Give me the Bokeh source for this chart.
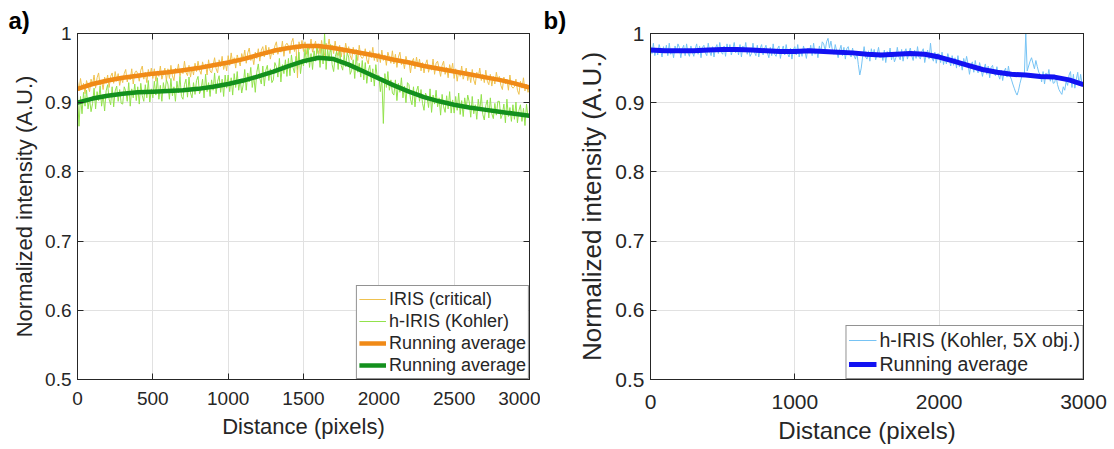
from bokeh.plotting import figure
from bokeh.layouts import row
from bokeh.models import (Legend, LegendItem, FixedTicker, CustomJSTickFormatter,
                          LinearAxis, Range1d, Title)
from bokeh.embed import file_html
from bokeh.resources import INLINE

# ---------------- data ----------------
# raw profiles sampled every 10 px, running averages every 100 px
distance_raw = list(range(0, 3001, 10))
distance_avg = list(range(0, 3001, 100))

iris_critical = [
    .931, .917, .935, .920, .928, .913, .932, .924, .916, .934,
    .926, .940, .921, .936, .943, .925, .932, .919, .937, .928,
    .940, .922, .938, .943, .928, .945, .931, .942, .925, .937,
    .929, .942, .948, .930, .940, .933, .949, .927, .943, .946,
    .942, .931, .947, .953, .934, .944, .929, .948, .938, .950,
    .935, .949, .931, .946, .938, .953, .934, .942, .950, .932,
    .949, .935, .954, .939, .932, .950, .943, .956, .938, .947,
    .942, .960, .944, .939, .954, .937, .951, .940, .957, .945,
    .960, .947, .941, .959, .949, .956, .940, .962, .946, .943,
    .954, .965, .949, .943, .962, .952, .967, .948, .958, .946,
    .968, .954, .972, .957, .965, .950, .969, .961, .953, .971,
    .962, .976, .957, .972, .979, .961, .968, .955, .973, .964,
    .978, .960, .976, .981, .966, .983, .969, .980, .963, .975,
    .969, .982, .988, .970, .980, .973, .989, .967, .983, .986,
    .982, .971, .987, .993, .974, .984, .936, .988, .978, .990,
    .974, .988, .970, .985, .977, .992, .973, .981, .989, .971,
    .985, .971, .990, .975, .968, .986, .979, .992, .974, .983,
    .971, .989, .973, .968, .983, .966, .980, .969, .986, .974,
    .981, .968, .962, .980, .970, .977, .961, .983, .967, .964,
    .967, .978, .962, .956, .975, .965, .980, .961, .971, .959,
    .972, .958, .976, .961, .969, .954, .973, .965, .957, .975,
    .956, .970, .951, .966, .973, .955, .962, .949, .967, .958,
    .961, .943, .959, .964, .949, .966, .952, .963, .946, .958,
    .943, .956, .962, .944, .954, .947, .963, .941, .957, .960,
    .949, .938, .954, .960, .941, .951, .936, .955, .945, .957,
    .935, .949, .931, .946, .938, .953, .934, .942, .950, .932,
    .943, .929, .948, .933, .926, .944, .937, .950, .932, .941,
    .929, .947, .931, .926, .941, .924, .938, .927, .944, .932,
    .938, .925, .919, .937, .927, .934, .918, .940, .924, .921,
    .923, .934, .918, .912, .931, .921, .936, .917, .927, .915,
    .920]

h_iris_kohler = [
    .913, .866, .909, .884, .915, .895, .918, .891, .906, .887,
    .899, .921, .891, .916, .903, .924, .895, .912, .888, .917,
    .926, .905, .897, .923, .894, .917, .924, .902, .919, .899,
    .898, .923, .917, .902, .929, .895, .920, .907, .927, .903,
    .923, .898, .928, .910, .902, .926, .907, .932, .901, .920,
    .907, .931, .911, .936, .905, .925, .902, .929, .914, .933,
    .927, .905, .935, .910, .923, .902, .931, .914, .938, .909,
    .905, .926, .934, .908, .937, .914, .907, .929, .912, .932,
    .938, .913, .919, .934, .907, .941, .916, .929, .909, .933,
    .918, .943, .913, .931, .939, .915, .934, .909, .940, .921,
    .940, .916, .936, .911, .942, .922, .945, .918, .933, .914,
    .926, .948, .918, .943, .930, .951, .922, .939, .915, .944,
    .956, .935, .927, .953, .924, .947, .954, .932, .949, .929,
    .933, .958, .952, .937, .964, .930, .955, .942, .962, .938,
    .964, .939, .969, .951, .943, .967, .948, .973, .942, .961,
    .953, .977, .957, .982, .951, .971, .948, .975, .960, .979,
    .973, .951, .981, .956, 1.00, .948, .977, .960, .984, .955,
    .945, .966, .974, .948, .977, .954, .947, .969, .952, .972,
    .966, .941, .947, .962, .935, .969, .944, .957, .937, .961,
    .933, .958, .928, .946, .954, .930, .949, .924, .955, .936,
    .940, .916, .936, .870, .942, .922, .945, .918, .933, .914,
    .911, .933, .903, .928, .915, .936, .907, .924, .900, .929,
    .926, .905, .897, .923, .894, .917, .924, .902, .919, .899,
    .889, .914, .908, .893, .920, .886, .911, .898, .918, .894,
    .907, .882, .912, .894, .886, .910, .891, .916, .885, .904,
    .885, .909, .889, .914, .883, .903, .880, .907, .892, .911,
    .901, .879, .909, .884, .897, .876, .905, .888, .912, .883,
    .875, .896, .904, .878, .907, .884, .877, .899, .882, .902,
    .902, .877, .883, .898, .871, .905, .880, .893, .873, .897,
    .876, .901, .871, .889, .897, .873, .892, .867, .898, .879,
    .878]

avg_critical = [
    .920, .927, .932, .936, .939, .942, .944, .947, .950, .954,
    .958, .963, .969, .975, .979, .982, .982, .979, .975, .971,
    .967, .962, .958, .953, .949, .945, .941, .937, .933, .928,
    .922]

avg_kohler = [
    .900, .906, .910, .913, .915, .916, .917, .918, .920, .923,
    .927, .932, .938, .945, .953, .960, .965, .963, .955, .945,
    .935, .925, .916, .908, .902, .897, .893, .890, .887, .884,
    .881]

h_iris_5x = [
    .983, .971, .986, .968, .979, .969, .984, .976, .966, .981,
    .972, .983, .968, .986, .970, .977, .965, .982, .973, .985,
    .980, .965, .978, .983, .968, .985, .972, .967, .982, .973,
    .967, .978, .985, .970, .982, .965, .980, .983, .972, .968,
    .986, .974, .968, .981, .966, .979, .984, .971, .987, .973,
    .970, .982, .967, .985, .974, .984, .969, .977, .987, .972,
    .980, .969, .984, .966, .982, .975, .987, .970, .979, .967,
    .971, .986, .973, .968, .983, .966, .979, .984, .969, .978,
    .983, .972, .965, .980, .968, .985, .970, .967, .978, .982,
    .964, .976, .982, .969, .984, .971, .966, .979, .963, .977,
    .981, .969, .984, .966, .977, .967, .982, .974, .964, .979,
    .972, .983, .968, .986, .970, .977, .965, .982, .973, .988,
    .985, .975, .988, .993, .979, .989, .976, .970, .984, .975,
    .965, .976, .983, .968, .980, .963, .978, .981, .970, .966,
    .979, .968, .963, .972, .955, .940, .950, .967, .981, .966,
    .963, .975, .960, .978, .967, .977, .962, .970, .980, .965,
    .972, .961, .976, .958, .974, .967, .979, .962, .971, .959,
    .965, .980, .967, .962, .977, .960, .973, .978, .963, .972,
    .979, .968, .961, .976, .964, .981, .966, .963, .974, .978,
    .958, .970, .976, .963, .986, .965, .960, .973, .957, .971,
    .970, .958, .973, .955, .966, .956, .971, .963, .953, .968,
    .954, .965, .950, .968, .952, .959, .947, .964, .955, .967,
    .956, .941, .954, .959, .944, .961, .948, .943, .958, .949,
    .938, .949, .956, .941, .953, .936, .951, .954, .943, .939,
    .952, .940, .934, .947, .932, .945, .950, .937, .953, .939,
    .934, .927, .921, .915, .911, .918, .928, .936, .943, .939,
    1.00, .946, .953, .960, .965, .957, .949, .961, .952, .944,
    .941, .930, .945, .927, .943, .936, .948, .931, .940, .928,
    .929, .938, .926, .919, .915, .912, .923, .918, .931, .925,
    .940, .945, .922, .941, .921, .934, .944, .925, .941, .927,
    .924]

avg_5x = [
    .976, .975, .975, .975, .976, .977, .977, .976, .975, .974,
    .974, .975, .974, .973, .972, .970, .969, .970, .971, .970,
    .966, .960, .954, .948, .944, .941, .940, .938, .937, .933,
    .926]

x_ticks_a = [0, 500, 1000, 1500, 2000, 2500, 3000]
x_ticks_b = [0, 1000, 2000, 3000]
y_ticks = [0.5, 0.6, 0.7, 0.8, 0.9, 1.0]

# ---------------- styling helpers ----------------
FONT = "Liberation Sans"
AXC = "#262626"
GRID = "#e1e1e1"

yfmt = "return tick >= 0.999 ? '1' : tick.toFixed(1);"


def box_axis(ticks):
    # tick marks only (MATLAB box ticks on top / right), labels never painted
    return LinearAxis(ticker=FixedTicker(ticks=ticks), major_label_text_font_size="1px",
                      major_label_text_color=None, major_tick_in=6, major_tick_out=0,
                      minor_tick_line_color=None, axis_line_color=AXC,
                      major_tick_line_color=AXC, major_label_standoff=0)


def make_panel(width, left, right, xticks, tick_fs, xlab_fs, ylab_fs,
               x_std, xlab_std, panel_tag, tag_offset):
    p = figure(width=width, height=449, output_backend="svg", toolbar_location=None,
               x_range=Range1d(0, 3000), y_range=Range1d(0.5, 1.0),
               min_border_left=left, min_border_right=right,
               min_border_top=33, min_border_bottom=70)
    p.title = Title(text=panel_tag, align="left", offset=tag_offset, standoff=0,
                    text_font=FONT, text_font_style="bold", text_font_size="24px",
                    text_color="black")
    p.background_fill_color = "white"
    p.border_fill_color = "white"
    p.outline_line_color = AXC
    p.outline_line_width = 1

    p.xaxis.ticker = FixedTicker(ticks=xticks)
    p.yaxis.ticker = FixedTicker(ticks=y_ticks)
    p.xgrid.ticker = FixedTicker(ticks=xticks)
    p.ygrid.ticker = FixedTicker(ticks=y_ticks)
    p.grid.grid_line_color = GRID
    p.grid.grid_line_width = 1
    p.yaxis.formatter = CustomJSTickFormatter(code=yfmt)

    for ax in (p.xaxis[0], p.yaxis[0]):
        ax.axis_line_color = AXC
        ax.major_tick_line_color = AXC
        ax.major_tick_in = 6
        ax.major_tick_out = 0
        ax.minor_tick_line_color = None
        ax.major_label_text_font = FONT
        ax.major_label_text_font_size = tick_fs
        ax.major_label_text_color = AXC
        ax.axis_label_text_font = FONT
        ax.axis_label_text_font_style = "normal"
        ax.axis_label_text_color = AXC

    p.xaxis.axis_label = "Distance (pixels)"
    p.yaxis.axis_label = "Normalized intensity (A.U.)"
    p.xaxis.axis_label_text_font_size = xlab_fs
    p.yaxis.axis_label_text_font_size = ylab_fs
    p.xaxis.major_label_standoff = x_std
    p.yaxis.major_label_standoff = 6
    p.xaxis.axis_label_standoff = xlab_std
    p.yaxis.axis_label_standoff = 5

    p.add_layout(box_axis(y_ticks), "right")
    p.add_layout(box_axis(xticks), "above")
    return p


def make_legend(items, fs, glyph_w, row_h, pad):
    return Legend(items=items, location="bottom_right", margin=0, padding=pad, spacing=0,
                  label_text_font=FONT, label_text_font_size=fs, label_text_color=AXC,
                  label_standoff=3, glyph_width=glyph_w, glyph_height=row_h,
                  label_height=row_h, border_line_color=AXC, border_line_width=1,
                  background_fill_color="white", background_fill_alpha=1)


# ---------------- panel a ----------------
pa = make_panel(540, 77, 11, x_ticks_a, "19px", "22px", "22px", 12, 6, "a)", -69)
r1 = pa.line(distance_raw, iris_critical, line_color="#efc24f", line_width=1)
r2 = pa.line(distance_raw, h_iris_kohler, line_color="#92e24c", line_width=1)
r3 = pa.line(distance_avg, avg_critical, line_color="#f08a17", line_width=4.5)
r4 = pa.line(distance_avg, avg_kohler, line_color="#13901d", line_width=4.5)
pa.add_layout(make_legend([
    LegendItem(label="IRIS (critical)", renderers=[r1]),
    LegendItem(label="h-IRIS (Kohler)", renderers=[r2]),
    LegendItem(label="Running average", renderers=[r3]),
    LegendItem(label="Running average", renderers=[r4]),
], "18px", 27, 22, 2))

# ---------------- panel b ----------------
pb = make_panel(574, 110, 31, x_ticks_b, "21px", "24px", "26px", 15, 5, "b)", -107)
s1 = pb.line(distance_raw, h_iris_5x, line_color="#76c3f4", line_width=1)
s2 = pb.line(distance_avg, avg_5x, line_color="#1212f2", line_width=5)
pb.add_layout(make_legend([
    LegendItem(label="h-IRIS (Kohler, 5X obj.)", renderers=[s1]),
    LegendItem(label="Running average", renderers=[s2]),
], "19.5px", 28, 24, 2))

layout = row(pa, pb)
open("out.html", "w").write(file_html(layout, INLINE))
